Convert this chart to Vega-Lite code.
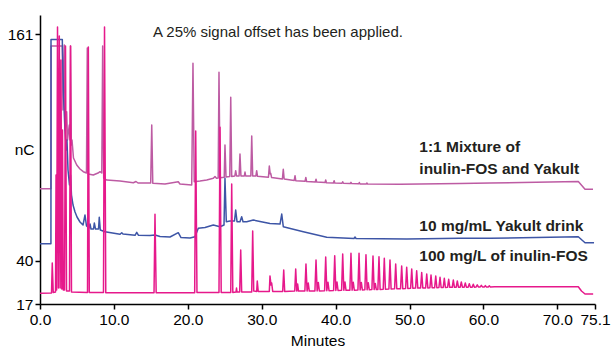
{
  "$schema": "https://vega.github.io/schema/vega-lite/v6.json",
  "width": 555,
  "height": 289,
  "autosize": {"type": "none"},
  "padding": {"left": 40, "top": 15, "right": 17, "bottom": 42},
  "background": "white",
  "config": {"view": {"stroke": null}, "font": "Liberation Sans"},
  "datasets": {
    "mix": [
      {"t":0,"v":78.56},{"t":1.49,"v":78.56},{"t":1.5,"v":154.75},{"t":3.02,"v":154.75},{"t":3.11,"v":120.58},{"t":3.29,"v":155.28},{"t":3.42,"v":109.9},{"t":3.61,"v":119.67},{"t":3.72,"v":104.56},{"t":3.96,"v":112.57},{"t":4.06,"v":104.56},{"t":4.13,"v":154.75},{"t":4.24,"v":101.89},{"t":4.33,"v":104.56},{"t":4.53,"v":94.95},{"t":4.97,"v":91.21},{"t":5.41,"v":89.08},{"t":5.86,"v":87.64},{"t":6.29,"v":86.94},{"t":6.4,"v":153.68},{"t":6.52,"v":86.41},{"t":7.21,"v":85.87},{"t":7.85,"v":86.94},{"t":8.12,"v":87.64},{"t":8.36,"v":86.94},{"t":8.48,"v":154.75},{"t":8.62,"v":84.27},{"t":9.03,"v":83.2},{"t":10.83,"v":82.66},{"t":12.63,"v":81.76},{"t":12.99,"v":82.4},{"t":13.26,"v":81.6},{"t":14.98,"v":81.6},{"t":15.12,"v":112.57},{"t":15.26,"v":81.44},{"t":16.91,"v":81.07},{"t":18.71,"v":82.3},{"t":18.94,"v":81.07},{"t":20.53,"v":80.53},{"t":20.7,"v":145.51},{"t":20.87,"v":82.3},{"t":21.65,"v":82.67},{"t":22.56,"v":83.2},{"t":23.45,"v":84.11},{"t":23.68,"v":85.07},{"t":23.88,"v":84.11},{"t":24.11,"v":84.27},{"t":24.22,"v":140.71},{"t":24.36,"v":84.43},{"t":24.93,"v":84.7},{"t":25.03,"v":101.89},{"t":25.17,"v":84.81},{"t":25.68,"v":85.07},{"t":25.81,"v":127.36},{"t":25.94,"v":85.07},{"t":26.36,"v":85.34},{"t":26.48,"v":88.17},{"t":26.6,"v":85.34},{"t":26.94,"v":85.34},{"t":27.06,"v":97.09},{"t":27.19,"v":85.34},{"t":27.65,"v":85.34},{"t":27.74,"v":87.47},{"t":27.83,"v":85.34},{"t":28.53,"v":85.34},{"t":28.65,"v":106.7},{"t":28.78,"v":85.34},{"t":29.21,"v":85.34},{"t":29.32,"v":88.17},{"t":29.43,"v":85.18},{"t":30.91,"v":84.65},{"t":31.03,"v":90.68},{"t":31.15,"v":86.41},{"t":31.22,"v":86.78},{"t":31.34,"v":84.54},{"t":32.8,"v":83.74},{"t":32.92,"v":88.92},{"t":33.04,"v":83.74},{"t":34.4,"v":82.94},{"t":34.51,"v":85.5},{"t":34.61,"v":82.83},{"t":35.86,"v":82.51},{"t":35.97,"v":84.54},{"t":36.08,"v":82.4},{"t":37.25,"v":82.14},{"t":37.35,"v":83.58},{"t":37.44,"v":82.14},{"t":38.57,"v":81.87},{"t":38.66,"v":83.2},{"t":38.76,"v":81.76},{"t":39.7,"v":81.6},{"t":39.8,"v":82.83},{"t":39.89,"v":81.6},{"t":40.87,"v":81.44},{"t":40.96,"v":82.3},{"t":41.06,"v":81.44},{"t":41.99,"v":81.28},{"t":42.08,"v":81.98},{"t":42.18,"v":81.28},{"t":43.11,"v":81.17},{"t":43.21,"v":81.87},{"t":43.3,"v":81.07},{"t":44.14,"v":81.01},{"t":44.24,"v":81.6},{"t":44.33,"v":81.01},{"t":48.71,"v":80.91},{"t":56.83,"v":81.34},{"t":60.89,"v":81.6},{"t":72.84,"v":82.4},{"t":73.75,"v":78.24},{"t":74.83,"v":78.24}
    ],
    "yakult": [
      {"t":0,"v":49.19},{"t":1.48,"v":49.19},{"t":1.49,"v":158.22},{"t":3.02,"v":158.22},{"t":3.03,"v":155.28},{"t":3.18,"v":128.58},{"t":3.38,"v":109.9},{"t":3.56,"v":99.22},{"t":3.65,"v":104.56},{"t":3.79,"v":88.54},{"t":3.99,"v":80.53},{"t":4.13,"v":85.87},{"t":4.26,"v":75.2},{"t":4.47,"v":69.86},{"t":4.74,"v":66.12},{"t":5.01,"v":63.45},{"t":5.41,"v":60.78},{"t":5.82,"v":59.18},{"t":6.09,"v":64.52},{"t":6.29,"v":58.64},{"t":6.63,"v":57.58},{"t":6.77,"v":59.71},{"t":6.9,"v":57.04},{"t":7.24,"v":57.04},{"t":7.35,"v":60.25},{"t":7.51,"v":57.04},{"t":7.92,"v":57.04},{"t":8.02,"v":63.29},{"t":8.16,"v":56.51},{"t":8.8,"v":55.6},{"t":10.83,"v":54.21},{"t":11.06,"v":55.07},{"t":11.23,"v":54.37},{"t":12.86,"v":53.68},{"t":13.09,"v":55.28},{"t":13.33,"v":53.68},{"t":14.88,"v":53.57},{"t":15.56,"v":53.84},{"t":16.24,"v":53.04},{"t":17.59,"v":52.77},{"t":18.71,"v":55.07},{"t":19.08,"v":52.5},{"t":20.3,"v":52.24},{"t":20.97,"v":52.93},{"t":21.42,"v":57.42},{"t":22.33,"v":57.84},{"t":23.45,"v":59.18},{"t":24.36,"v":58.27},{"t":24.9,"v":59.18},{"t":25.03,"v":84.11},{"t":25.21,"v":60.94},{"t":25.71,"v":61.31},{"t":26.32,"v":61.31},{"t":26.48,"v":67.19},{"t":26.66,"v":60.94},{"t":27.06,"v":60.94},{"t":27.29,"v":63.61},{"t":27.47,"v":60.94},{"t":27.97,"v":60.94},{"t":28.86,"v":61.85},{"t":29.77,"v":61.05},{"t":31.12,"v":59.98},{"t":32.48,"v":59.71},{"t":32.71,"v":65.05},{"t":32.92,"v":58.27},{"t":35.63,"v":55.6},{"t":38.8,"v":52.61},{"t":42.49,"v":51.97},{"t":42.63,"v":52.77},{"t":42.76,"v":51.97},{"t":49.62,"v":51.7},{"t":56.83,"v":52.08},{"t":60.89,"v":52.08},{"t":72.84,"v":52.93},{"t":73.75,"v":49.73},{"t":74.97,"v":49.73}
    ],
    "inulin": [
      {"t":0,"v":22.7},{"t":1.56,"v":22.9},{"t":1.66,"v":38.9},{"t":1.79,"v":23.1},{"t":2.1,"v":23.4},{"t":2.17,"v":85.9},{"t":2.25,"v":24.5},{"t":2.37,"v":164.9},{"t":2.49,"v":25.5},{"t":2.61,"v":160.1},{"t":2.73,"v":25.5},{"t":2.84,"v":147.3},{"t":2.95,"v":25.0},{"t":3.04,"v":109.9},{"t":3.15,"v":24.5},{"t":3.32,"v":24.5},{"t":3.45,"v":154.8},{"t":3.59,"v":23.9},{"t":3.99,"v":23.9},{"t":4.13,"v":154.8},{"t":4.26,"v":23.4},{"t":6.43,"v":23.1},{"t":6.54,"v":154.2},{"t":6.67,"v":23.1},{"t":8.59,"v":23.1},{"t":8.73,"v":164.9},{"t":8.9,"v":23.0},{"t":15.43,"v":23.0},{"t":15.56,"v":64.9},{"t":15.72,"v":23.0},{"t":20.93,"v":23.0},{"t":21.07,"v":109.4},{"t":21.24,"v":23.1},{"t":24.22,"v":23.1},{"t":24.36,"v":111.4},{"t":24.52,"v":23.2},{"t":25.81,"v":23.2},{"t":25.94,"v":81.1},{"t":26.09,"v":23.2},{"t":26.52,"v":23.4},{"t":26.59,"v":25.5},{"t":26.66,"v":23.4},{"t":27.02,"v":23.4},{"t":27.16,"v":45.8},{"t":27.29,"v":23.4},{"t":28.65,"v":23.4},{"t":28.78,"v":56.0},{"t":28.92,"v":23.9},{"t":29.32,"v":23.7},{"t":29.4,"v":29.3},{"t":29.53,"v":23.7},{"t":31.03,"v":23.7},{"t":31.12,"v":32.0},{"t":31.26,"v":27.1},{"t":31.35,"v":28.2},{"t":31.49,"v":23.7},{"t":32.84,"v":23.7},{"t":32.98,"v":35.2},{"t":33.11,"v":23.7},{"t":34.47,"v":23.9},{"t":34.6,"v":35.7},{"t":34.74,"v":23.9},{"t":34.86,"v":27.7},{"t":34.98,"v":23.9},
      {"t":35.84,"v":23.9},{"t":35.99,"v":38.36},{"t":36.14,"v":23.9},{"t":36.3,"v":28.2},{"t":36.44,"v":23.9},
      {"t":37.2,"v":24.0},{"t":37.35,"v":40.49},{"t":37.5,"v":24.0},{"t":37.66,"v":28.5},{"t":37.8,"v":24.0},
      {"t":38.51,"v":24.1},{"t":38.66,"v":42.09},{"t":38.81,"v":24.1},{"t":38.97,"v":28.6},{"t":39.11,"v":24.1},
      {"t":39.73,"v":24.2},{"t":39.88,"v":42.79},{"t":40.03,"v":24.2},{"t":40.19,"v":28.7},{"t":40.33,"v":24.2},
      {"t":40.81,"v":24.3},{"t":40.96,"v":43.7},{"t":41.11,"v":24.3},{"t":41.27,"v":28.7},{"t":41.41,"v":24.3},
      {"t":41.93,"v":24.4},{"t":42.08,"v":44.07},{"t":42.23,"v":24.4},{"t":42.39,"v":28.6},{"t":42.53,"v":24.4},
      {"t":43.02,"v":24.5},{"t":43.17,"v":44.07},{"t":43.32,"v":24.5},{"t":43.48,"v":28.5},{"t":43.62,"v":24.5},
      {"t":43.96,"v":24.6},{"t":44.11,"v":43.32},{"t":44.26,"v":24.6},{"t":44.42,"v":28.3},{"t":44.56,"v":24.6},
      {"t":44.91,"v":24.7},{"t":45.06,"v":42.63},{"t":45.21,"v":24.7},{"t":45.37,"v":28.0},{"t":45.51,"v":24.7},
      {"t":45.72,"v":24.8},{"t":45.87,"v":42.25},{"t":46.02,"v":24.8},
      {"t":46.44,"v":24.9},{"t":46.59,"v":41.4},{"t":46.74,"v":24.9},
      {"t":47.21,"v":25.0},{"t":47.36,"v":40.49},{"t":47.51,"v":25.0},
      {"t":47.98,"v":25.1},{"t":48.13,"v":38.36},{"t":48.28,"v":25.1},
      {"t":48.79,"v":25.2},{"t":48.94,"v":37.29},{"t":49.09,"v":25.2},
      {"t":49.47,"v":25.3},{"t":49.62,"v":36.59},{"t":49.77,"v":25.3},
      {"t":50.15,"v":25.4},{"t":50.3,"v":35.69},{"t":50.45,"v":25.4},
      {"t":50.82,"v":25.5},{"t":50.97,"v":34.78},{"t":51.12,"v":25.5},
      {"t":51.5,"v":25.6},{"t":51.65,"v":33.82},{"t":51.8,"v":25.6},
      {"t":52.18,"v":25.6},{"t":52.33,"v":33.02},{"t":52.48,"v":25.6},
      {"t":52.76,"v":25.7},{"t":52.91,"v":32.48},{"t":53.06,"v":25.7},
      {"t":53.4,"v":25.7},{"t":53.55,"v":31.95},{"t":53.7,"v":25.7},
      {"t":53.98,"v":25.8},{"t":54.13,"v":31.26},{"t":54.28,"v":25.8},
      {"t":54.56,"v":25.8},{"t":54.71,"v":30.72},{"t":54.86,"v":25.8},
      {"t":55.15,"v":25.9},{"t":55.3,"v":30.19},{"t":55.45,"v":25.9},
      {"t":55.78,"v":25.9},{"t":55.93,"v":29.81},{"t":56.08,"v":25.9},
      {"t":56.32,"v":26.0},{"t":56.47,"v":29.28},{"t":56.62,"v":26.0},
      {"t":56.86,"v":26.0},{"t":57.01,"v":28.75},{"t":57.16,"v":26.0},
      {"t":57.4,"v":26.0},{"t":57.55,"v":28.21},{"t":57.7,"v":26.0},
      {"t":57.94,"v":26.0},{"t":58.09,"v":27.84},{"t":58.24,"v":26.0},
      {"t":58.48,"v":26.0},{"t":58.63,"v":27.52},{"t":58.78,"v":26.0},
      {"t":59.02,"v":26.1},{"t":59.17,"v":27.25},{"t":59.32,"v":26.1},
      {"t":59.57,"v":26.1},{"t":59.72,"v":26.98},{"t":59.87,"v":26.1},
      {"t":60.11,"v":26.1},{"t":60.26,"v":26.82},{"t":60.41,"v":26.1},
      {"t":60.65,"v":26.1},{"t":60.8,"v":26.66},{"t":60.95,"v":26.1},
      {"t":61.5,"v":26.2},{"t":72.84,"v":26.24},{"t":73.27,"v":23.94},{"t":73.75,"v":22.34},{"t":74.85,"v":22.34}
    ],
    "notes": [
      {"t":15.29,"v":159.7,"label":"A 25% signal offset has been applied."}
    ],
    "labels": [
      {"t":51.33,"v":98.3,"label":"1:1 Mixture of"},
      {"t":51.33,"v":86.25,"label":"inulin-FOS and Yakult"},
      {"t":51.33,"v":56.14,"label":"10 mg/mL Yakult drink"},
      {"t":51.33,"v":40.12,"label":"100 mg/L of inulin-FOS"}
    ]
  },
  "encoding": {
    "x": {
      "field": "t", "type": "quantitative",
      "scale": {"domain": [0, 75.1], "nice": false, "zero": false},
      "axis": {
        "values": [0, 10, 20, 30, 40, 50, 60, 70, 75.1], "format": ".1f",
        "title": "Minutes", "grid": false, "tickSize": 5, "tickWidth": 1.5,
        "tickColor": "black", "domainColor": "black", "domainWidth": 1.5,
        "labelColor": "black", "labelFontSize": 15.5, "labelPadding": 3,
        "labelFlush": false, "labelOverlap": false,
        "titleFontSize": 15.5, "titleFontWeight": "normal", "titleColor": "black",
        "titleBaseline": "alphabetic", "titleY": 41
      }
    },
    "y": {
      "field": "v", "type": "quantitative",
      "scale": {"domain": [17, 171.3], "nice": false, "zero": false},
      "axis": {
        "values": [17, 40, 161], "format": "d",
        "title": "nC", "titleAngle": 0, "titleAlign": "right", "titleBaseline": "middle",
        "titleX": -6, "titleY": 134, "titleFontSize": 15.5, "titleFontWeight": "normal", "titleColor": "black",
        "grid": false, "tickSize": 5, "tickWidth": 1.5, "tickColor": "black",
        "domainColor": "black", "domainWidth": 1.5,
        "labelColor": "black", "labelFontSize": 15.5, "labelPadding": 2, "labelFlush": false, "labelOverlap": false
      }
    }
  },
  "layer": [
    {"data": {"name": "mix"}, "mark": {"type": "line", "color": "#BD5BA3", "strokeWidth": 1.5, "strokeJoin": "round", "clip": true}, "encoding": {"order": {"value": null}}},
    {"data": {"name": "yakult"}, "mark": {"type": "line", "color": "#3D55A6", "strokeWidth": 1.5, "strokeJoin": "round", "clip": true}, "encoding": {"order": {"value": null}}},
    {"data": {"name": "inulin"}, "mark": {"type": "line", "color": "#E6198B", "strokeWidth": 1.5, "strokeJoin": "round", "clip": true}, "encoding": {"order": {"value": null}}},
    {"data": {"name": "notes"}, "mark": {"type": "text", "align": "left", "baseline": "alphabetic", "fontSize": 15, "color": "#231F20"}, "encoding": {"text": {"field": "label"}}},
    {"data": {"name": "labels"}, "mark": {"type": "text", "align": "left", "baseline": "alphabetic", "fontSize": 15.5, "fontWeight": "bold", "color": "#231F20"}, "encoding": {"text": {"field": "label"}}}
  ]
}
